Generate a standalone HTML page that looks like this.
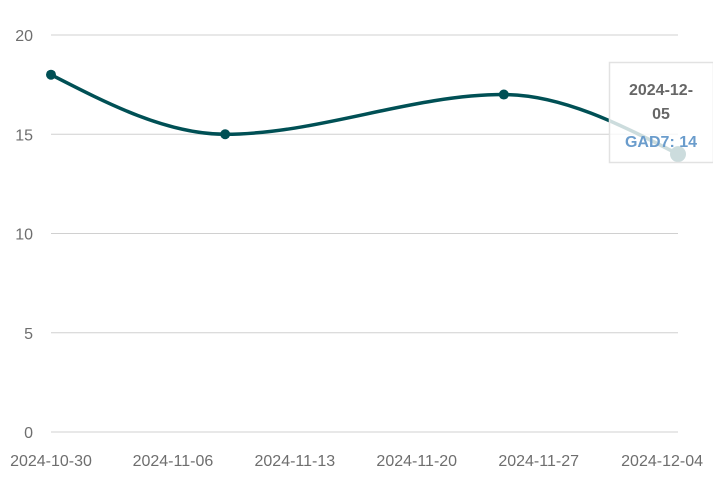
<!DOCTYPE html>
<html><head><meta charset="utf-8">
<style>
html,body{margin:0;padding:0;background:#fff;}
svg{display:block;font-family:"Liberation Sans",sans-serif;}
</style></head>
<body>
<svg id="chart" width="713" height="487"></svg>
<script>
const dates = ["2024-10-30","2024-11-09","2024-11-25","2024-12-05"];
const values = [18,15,17,14];
const yTicks = [0,5,10,15,20];
const xTickLabels = ["2024-10-30","2024-11-06","2024-11-13","2024-11-20","2024-11-27","2024-12-04"];
const seriesName = "GAD7";

const NS="http://www.w3.org/2000/svg";
const svg=document.getElementById('chart');
const day=s=>Date.UTC(+s.slice(0,4),+s.slice(5,7)-1,+s.slice(8,10))/86400000;
const d0=day("2024-10-30"), d1=day("2024-12-05");
const X=s=>51+(day(s)-d0)/(d1-d0)*(678-51);
const Y=v=>432-v/20*(432-35);
function el(t,a,p){const e=document.createElementNS(NS,t);for(const k in a)e.setAttribute(k,a[k]);(p||svg).appendChild(e);return e;}

yTicks.forEach(v=>{
  const g=el('line',{x1:51,x2:678,y1:Y(v),y2:Y(v),stroke:'#d0d0d0','stroke-width':1});
  
  
  const t=el('text',{x:33,y:Y(v)+6,'text-anchor':'end','font-size':16,fill:'#6e6e6e'});
  t.textContent=v;
  
  
});
xTickLabels.forEach((s,i)=>{
  let x=X(s);
  const t=el('text',{x:x,y:466,'text-anchor':'middle','font-size':16,fill:'#6e6e6e'});
  if(i===xTickLabels.length-1){t.setAttribute('text-anchor','end');t.setAttribute('x',703);}
  t.textContent=s;
  
  
});

const px=dates.map(X), py=values.map(Y);
const n=px.length;
const sl=[];for(let i=0;i<n-1;i++)sl.push((py[i+1]-py[i])/(px[i+1]-px[i]));
const m=[];
for(let i=0;i<n;i++){
  if(i===0)m.push(sl[0]);else if(i===n-1)m.push(sl[n-2]);
  else{const a=sl[i-1],b=sl[i];if(a*b<=0)m.push(0);else{const h0=px[i]-px[i-1],h1=px[i+1]-px[i];m.push(3*(h0+h1)/((2*h1+h0)/a+(h1+2*h0)/b));}}
}
m[0]=(3*sl[0]-m[1])/2; m[n-1]=(3*sl[n-2]-m[n-2])/2;
let d=`M${px[0]},${py[0]}`;
for(let i=0;i<n-1;i++){const h=(px[i+1]-px[i])/3;d+=` C${px[i]+h},${py[i]+m[i]*h} ${px[i+1]-h},${py[i+1]-m[i+1]*h} ${px[i+1]},${py[i+1]}`;}
const line=el('path',{d:d,fill:'none',stroke:'#005055','stroke-width':3.5});


for(let i=0;i<n;i++){
  const last=i===n-1;
  const c=el('circle',{cx:px[i],cy:py[i],r:last?8:5,fill:'#005055'});
  
  
}
const tg=el('g',{});


el('rect',{x:609.5,y:62.5,width:104,height:100,fill:'rgba(255,255,255,0.8)',stroke:'#e2e2e2','stroke-width':1.5},tg);
const t1=el('text',{x:661,y:95,'text-anchor':'middle','font-size':16,'font-weight':'bold',fill:'#666'},tg);t1.textContent="2024-12-";
const t2=el('text',{x:661,y:119,'text-anchor':'middle','font-size':16,'font-weight':'bold',fill:'#666'},tg);t2.textContent="05";
const t3=el('text',{x:661,y:147,'text-anchor':'middle','font-size':16,'font-weight':'bold',fill:'#6a9ccc'},tg);t3.textContent=seriesName+": "+values[n-1];
</script>
</body></html>
